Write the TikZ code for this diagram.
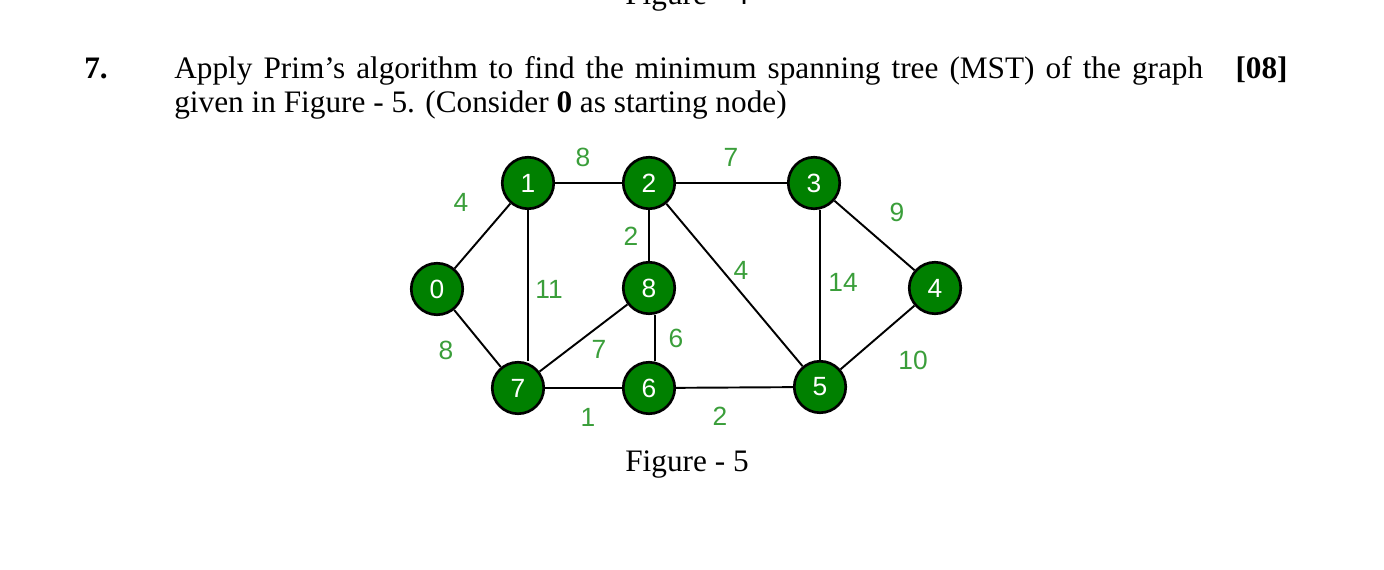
\documentclass[tikz,border=0pt]{standalone}
\usepackage{fontspec}
\setmainfont{Liberation Serif}
\newfontfamily\arialfont{Liberation Sans}
\usetikzlibrary{positioning}
\definecolor{nodegreen}{RGB}{0,128,0}
\definecolor{wgtgreen}{RGB}{58,158,58}

\begin{document}
\begin{tikzpicture}[x=0.02cm,y=-0.02cm,
  v/.style={circle,draw,line width=1.5pt,fill=nodegreen,text=white,inner sep=0pt,minimum size=1.03cm,font=\arialfont\fontsize{15}{16}\selectfont},
  e/.style={line width=1.1pt},
  w/.style={text=wgtgreen,inner sep=1pt,font=\arialfont\fontsize{15}{16}\selectfont},
  txt/.style={font=\fontsize{17.8}{19.4}\selectfont,inner sep=0pt}]
\useasboundingbox (0,0) rectangle (1384,570);
% question text
\node[txt,anchor=base] (prev) at (687,5) {Figure - 4};
\node[txt,anchor=base west] (qno) at (84,79) {\textbf{7.}};
\node[txt,anchor=base east] (marks) at (1288,79) {\textbf{[08]}};
\node[txt,anchor=base west] (line1) at (174,79) {\makebox[20.58cm][s]{Apply Prim's algorithm to find the minimum spanning tree (MST) of the graph}};
\node[txt,anchor=base west] (line2) at (174,113) {given in Figure - 5. (Consider \textbf{0} as starting node)};
% vertices
\node[v] (n0) at (437,289) {0};
\node[v] (n1) at (528,183) {1};
\node[v] (n2) at (649,183) {2};
\node[v] (n3) at (814,183) {3};
\node[v] (n4) at (935,288) {4};
\node[v] (n5) at (820,387) {5};
\node[v] (n6) at (649,388) {6};
\node[v] (n7) at (518,388) {7};
\node[v] (n8) at (649,288) {8};
% edges
\draw[e] (n0) -- (n1);
\draw[e] (n0) -- (n7);
\draw[e] (n1) -- (n2);
\draw[e] (n1.south) -- (n1.south |- n7.north);
\draw[e] (n2) -- (n3);
\draw[e] (n2) -- (n8);
\draw[e] (n2) -- (n5);
\draw[e] (n3) -- (n4);
\draw[e] (n5.north |- n3.south) -- (n5);
\draw[e] (n4) -- (n5);
\draw[e] (n8) -- (n7);
\draw[e] ([xshift=1.2mm]n8.south) -- ([xshift=1.2mm]n6.north);
\draw[e] (n7) -- (n6);
\draw[e] (n6) -- (n5);
% weights
\node[w] (w01) at (461,202) {4};
\node[w] (w07) at (446,350) {8};
\node[w] (w12) at (583,157) {8};
\node[w] (w17) at (549,289) {11};
\node[w] (w23) at (731,157) {7};
\node[w] (w28) at (631,236) {2};
\node[w] (w25) at (741,270) {4};
\node[w] (w34) at (897,212) {9};
\node[w] (w35) at (843,282) {14};
\node[w] (w45) at (913,360) {10};
\node[w] (w87) at (599,349) {7};
\node[w] (w86) at (676,338) {6};
\node[w] (w76) at (588,417) {1};
\node[w] (w65) at (720,416) {2};
% caption
\node[txt,anchor=base] (cap) at (687,472) {Figure - 5};
\end{tikzpicture}
\end{document}
